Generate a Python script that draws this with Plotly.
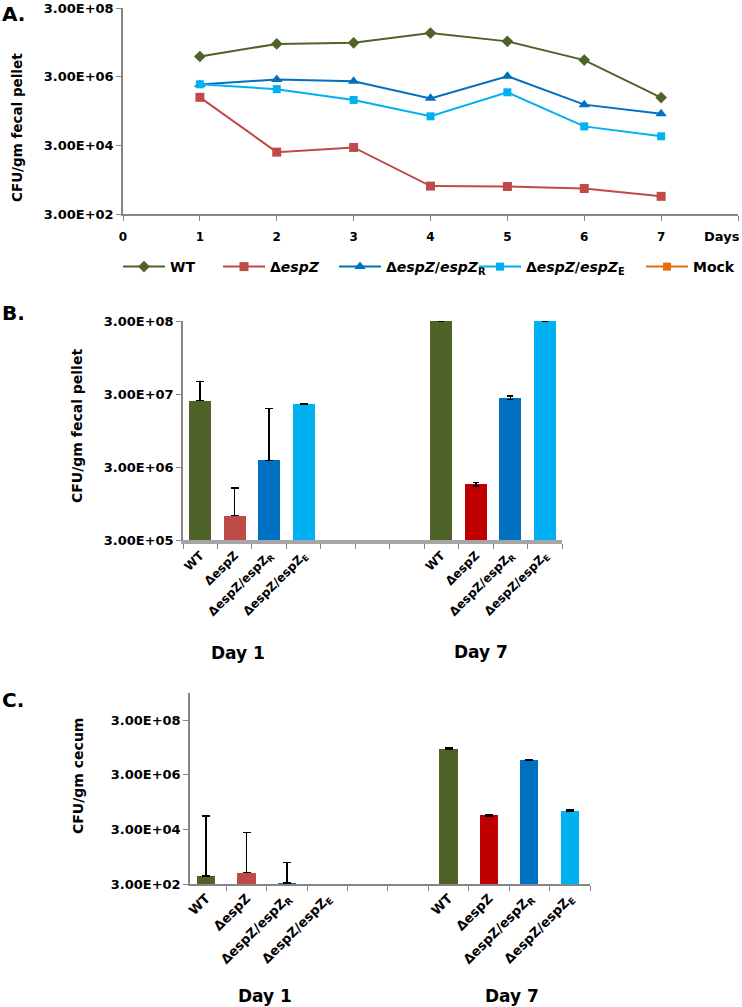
import plotly.graph_objects as go

W, H = 742, 1007

# ---------------- data ----------------
days = [1, 2, 3, 4, 5, 6, 7]
wt_A = [1.16e7, 2.7e7, 2.9e7, 5.6e7, 3.2e7, 9.1e6, 7.4e5]
del_A = [7.5e5, 1.9e4, 2.6e4, 1.95e3, 1.9e3, 1.66e3, 9.8e2]
r_A = [1.76e6, 2.5e6, 2.2e6, 7.0e5, 3.1e6, 4.6e5, 2.5e5]
e_A = [1.8e6, 1.3e6, 6.3e5, 2.1e5, 1.05e6, 1.07e5, 5.5e4]
mock_A = [None] * 7

strain_labels = ["WT", "ΔespZ", "ΔespZ/espZ<sub>R</sub>", "ΔespZ/espZ<sub>E</sub>"]

B_day1 = [2.43e7, 6.46e5, 3.7e6, 2.17e7]
B_day1_err = [2.05e7, 9.0e5, 1.54e7, 2.0e5]
B_day7 = [3.0e8, 1.75e6, 2.67e7, 3.0e8]
B_day7_err = [0, 1.0e5, 1.5e6, 0]

C_day1 = [580, 790, 330, None]
C_day1_err = [9.4e4, 2.2e4, 1.55e3, 0]
C_day7 = [2.75e7, 9.9e4, 1.05e7, 1.48e5]
C_day7_err = [1.2e6, 4e3, 4e5, 6e3]

ytick_vals = [3e2, 3e4, 3e6, 3e8]
ytick_text = ["3.00E+02", "3.00E+04", "3.00E+06", "3.00E+08"]
ytick_vals_B = [3e5, 3e6, 3e7, 3e8]
ytick_text_B = ["3.00E+05", "3.00E+06", "3.00E+07", "3.00E+08"]

# ---------------- colors ----------------
WT_C = "#4F6228"
DEL_C = "#BE4B48"
DEL7_C = "#C00000"
R_C = "#0070C0"
E_C = "#00B0F0"
MOCK_C = "#E46C0A"
AX_C = "#868686"

FONT = "DejaVu Sans"


def px(x):
    return min(max(x / W, 0), 1)


def py(y):
    return min(max(1 - y / H, 0), 1)


def bfont(size):
    return dict(family=FONT, size=size, color="black", weight="bold")


fig = go.Figure()

# ---------------- Panel A ----------------
series_A = [
    ("WT", wt_A, WT_C, "diamond", 9, "legend"),
    ("Δ<i>espZ</i>", del_A, DEL_C, "square", 9, "legend2"),
    ("Δ<i>espZ</i>/<i>espZ</i><sub>R</sub>", r_A, R_C, "triangle-up", 10, "legend3"),
    ("Δ<i>espZ</i>/<i>espZ</i><sub>E</sub>", e_A, E_C, "square", 8, "legend4"),
    ("Mock", mock_A, MOCK_C, "square", 8, "legend5"),
]
for name, vals, col, sym, size, leg in series_A:
    fig.add_trace(go.Scatter(x=days, y=vals, name=name, mode="lines+markers",
                             line=dict(color=col, width=2),
                             marker=dict(symbol=sym, size=size, color=col),
                             legend=leg, xaxis="x", yaxis="y"))

# ---------------- Panel B ----------------
pos1 = [0, 1, 2, 3]
posB7 = [7, 8, 9, 10]
fig.add_trace(go.Bar(x=pos1, y=B_day1, width=0.64,
                     marker=dict(color=[WT_C, DEL_C, R_C, E_C], line=dict(width=0)),
                     error_y=dict(type="data", array=B_day1_err,
                                  arrayminus=[0] * 4, color="black",
                                  thickness=1.5, width=4),
                     showlegend=False, xaxis="x2", yaxis="y2"))
fig.add_trace(go.Bar(x=posB7, y=B_day7, width=0.64,
                     marker=dict(color=[WT_C, DEL7_C, R_C, E_C], line=dict(width=0)),
                     error_y=dict(type="data", array=B_day7_err, color="black",
                                  thickness=1.5, width=3),
                     showlegend=False, xaxis="x2", yaxis="y2"))

# ---------------- Panel C ----------------
posC7 = [6, 7, 8, 9]
fig.add_trace(go.Bar(x=pos1, y=C_day1, width=0.45,
                     marker=dict(color=[WT_C, DEL_C, R_C, E_C], line=dict(width=0)),
                     error_y=dict(type="data", array=C_day1_err,
                                  arrayminus=[0] * 4, color="black",
                                  thickness=1.5, width=4),
                     showlegend=False, xaxis="x3", yaxis="y3"))
fig.add_trace(go.Bar(x=posC7, y=C_day7, width=0.45,
                     marker=dict(color=[WT_C, DEL7_C, R_C, E_C], line=dict(width=0)),
                     error_y=dict(type="data", array=C_day7_err, color="black",
                                  thickness=2, width=4),
                     showlegend=False, xaxis="x3", yaxis="y3"))

common_y = dict(type="log", tickmode="array", ticks="outside", ticklen=5,
                tickcolor=AX_C, showline=True, linecolor=AX_C, linewidth=1.5,
                showgrid=False, zeroline=False, automargin=False,
                ticklabeloverflow="allow")

fig.update_layout(
    template="none",
    width=W, height=H, autosize=False,
    margin=dict(l=0, r=0, t=0, b=0, pad=0),
    paper_bgcolor="white", plot_bgcolor="white",
    bargap=0,
    font=dict(family=FONT, color="black"),
    # Panel A axes
    xaxis=dict(domain=[px(123), px(738)], range=[0, 8],
               tickmode="array", tickvals=[0, 1, 2, 3, 4, 5, 6, 7],
               ticktext=["0", "1", "2", "3", "4", "5", "6", "7"],
               ticks="outside", ticklen=5, tickcolor=AX_C,
               ticklabelstandoff=6,
               minor=dict(tickmode="array", tickvals=[8], ticks="outside",
                          ticklen=5, tickcolor=AX_C),
               showline=True, linecolor=AX_C, linewidth=1.5,
               showgrid=False, zeroline=False, automargin=False,
               ticklabeloverflow="allow",
               tickfont=bfont(12), anchor="y"),
    yaxis=dict(domain=[py(214), py(8)], range=[2.4771, 8.4771],
               tickvals=ytick_vals, ticktext=ytick_text,
               tickfont=bfont(13), anchor="x", **common_y),
    # Panel B axes
    xaxis2=dict(domain=[px(183), px(562)], range=[-0.5, 10.5],
                tickmode="array", tickvals=pos1 + posB7,
                ticktext=strain_labels + strain_labels, tickangle=-45,
                ticks="", showline=True, linecolor="#A6A6A6", linewidth=3.5,
                minor=dict(tickmode="array",
                           tickvals=[i - 0.5 for i in range(12)],
                           ticks="outside", ticklen=5, tickcolor=AX_C),
                showgrid=False, zeroline=False, automargin=False,
                ticklabeloverflow="allow",
                tickfont=bfont(12), anchor="y2"),
    yaxis2=dict(domain=[py(540), py(321)], range=[5.4771, 8.4771],
                tickvals=ytick_vals_B, ticktext=ytick_text_B,
                tickfont=bfont(13), anchor="x2", **common_y),
    # Panel C axes
    xaxis3=dict(domain=[px(190), px(590)], range=[-0.4, 9.5],
                tickmode="array", tickvals=pos1 + posC7,
                ticktext=strain_labels + strain_labels, tickangle=-45,
                ticks="", showline=True, linecolor=AX_C, linewidth=1.5,
                minor=dict(tickmode="array",
                           tickvals=[i + 0.5 for i in range(10)],
                           ticks="outside", ticklen=5, tickcolor=AX_C),
                showgrid=False, zeroline=False, automargin=False,
                ticklabeloverflow="allow",
                tickfont=bfont(13), anchor="y3"),
    yaxis3=dict(domain=[py(884), py(693)], range=[2.4771, 9.4771],
                tickvals=ytick_vals, ticktext=ytick_text,
                tickfont=bfont(13), anchor="x3", **common_y),
)

# one legend per entry, placed where each entry sits in the reference
leg_x = [118, 218, 334, 474, 641]
for i, lx in enumerate(leg_x):
    key = "legend" if i == 0 else f"legend{i + 1}"
    fig.update_layout({key: dict(x=px(lx), xanchor="left", y=py(267),
                                 yanchor="middle", orientation="h",
                                 font=bfont(14), bgcolor="rgba(0,0,0,0)",
                                 borderwidth=0, itemwidth=42)})

ann = []


def add_text(x, y, text, size, angle=0, xanchor="center"):
    ann.append(dict(x=px(x), y=py(y), xref="paper", yref="paper", text=text,
                    showarrow=False, textangle=angle, xanchor=xanchor,
                    yanchor="middle", font=bfont(size)))


add_text(0, 14, "A.", 20, xanchor="left")
add_text(0, 313, "B.", 20, xanchor="left")
add_text(0, 700, "C.", 20, xanchor="left")
add_text(17, 128, "CFU/gm fecal pellet", 13.5, angle=-90)
add_text(77, 426, "CFU/gm fecal pellet", 14, angle=-90)
add_text(78, 776, "CFU/gm cecum", 14, angle=-90)
add_text(742, 236, "Days", 13, xanchor="right")
add_text(238, 653, "Day 1", 17)
add_text(481, 652, "Day 7", 17)
add_text(265, 996, "Day 1", 17)
add_text(512, 996, "Day 7", 17)

fig.update_layout(annotations=ann)

# remove the browser's default 8px body margin so the figure sits at (0, 0)
fig.write_html("out.html",
               config={"displayModeBar": False},
               post_script="document.body.style.margin='0px';")
